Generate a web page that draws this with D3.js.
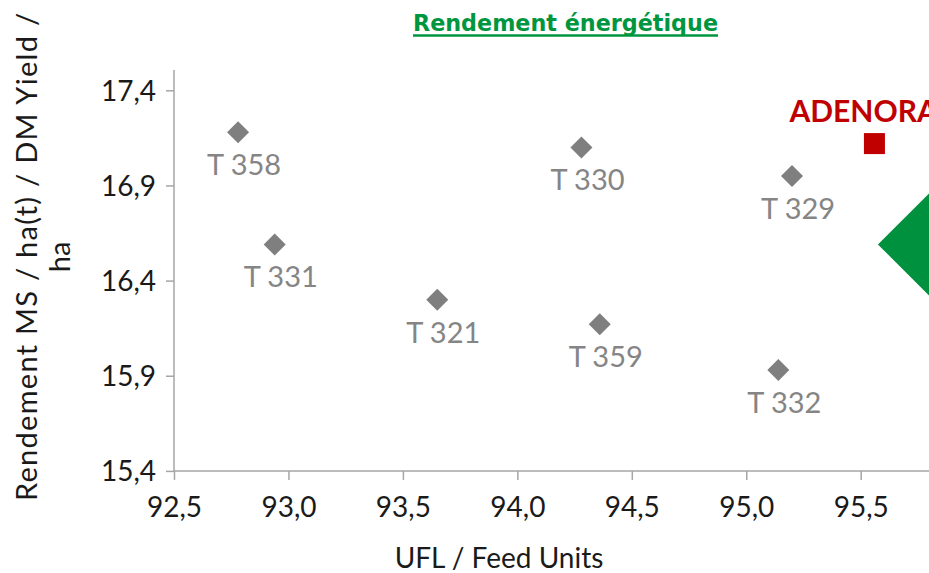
<!DOCTYPE html>
<html lang="fr">
<head>
<meta charset="UTF-8">
<title>Rendement énergétique</title>
<script src="https://cdn.jsdelivr.net/npm/d3@7/dist/d3.min.js"></script>
<style>
  html, body { margin: 0; padding: 0; background: #fff; overflow: hidden; }
  svg { display: block; font-family: "Century Gothic", "Lato", sans-serif; }
</style>
</head>
<body>
<svg id="chart" width="929" height="573"></svg>
<script>
// variétés témoins
var names = ["T 358", "T 331", "T 321", "T 330", "T 359", "T 329", "T 332"];
var ufl = [92.78, 92.94, 93.65, 94.28, 94.36, 95.20, 95.14];
var yieldMS = [17.18, 16.59, 16.30, 17.10, 16.17, 16.95, 15.93];

// variété mise en avant
var highlightName = ["ADENORA"];
var highlightUfl = [95.56];
var highlightYield = [17.12];

// gros losange vert (coupé à droite)
var greenUfl = [95.82];
var greenYield = [16.59];

var xTicks = [92.5, 93.0, 93.5, 94.0, 94.5, 95.0, 95.5];
var yTicks = [15.4, 15.9, 16.4, 16.9, 17.4];

var svg = d3.select("#chart");

var x = d3.scaleLinear().domain([92.5, 96.0]).range([174, 174 + 3.5 * 228.9]);
var y = d3.scaleLinear().domain([15.4, 17.4]).range([470.9, 90.3]);

var fmt = function (d) { return d3.format(".1f")(d).replace(".", ","); };
var axisCol = "#a6a6a6";

// titre
var title = svg.append("text")
    .attr("x", 565.5)
    .attr("y", 31)
    .attr("text-anchor", "middle")
    .style("font-family", "'DejaVu Sans', sans-serif")
    .style("font-weight", "bold")
    .style("font-size", "22.5px")
    .attr("fill", "#00963f")
    .text("Rendement énergétique");
title.attr("textLength", 305).attr("lengthAdjust", "spacingAndGlyphs");
svg.append("line")
    .attr("x1", 413).attr("x2", 718)
    .attr("y1", 35.5).attr("y2", 35.5)
    .attr("stroke", "#00963f").attr("stroke-width", 2.5);

// axe Y
var yAxis = svg.append("g")
    .attr("transform", "translate(174,0)")
    .call(d3.axisLeft(y).tickValues(yTicks).tickFormat(fmt).tickSize(8).tickPadding(10));
yAxis.select(".domain").remove();
yAxis.append("line")
    .attr("x1", 0).attr("x2", 0).attr("y1", 70).attr("y2", 471)
    .attr("stroke", axisCol).attr("stroke-width", 1.5);

// axe X
var xAxis = svg.append("g")
    .attr("transform", "translate(0,470.9)")
    .call(d3.axisBottom(x).tickValues(xTicks).tickFormat(fmt).tickSize(9).tickPadding(17));
xAxis.select(".domain").remove();
xAxis.append("line")
    .attr("x1", 174).attr("x2", 929).attr("y1", 0).attr("y2", 0)
    .attr("stroke", axisCol).attr("stroke-width", 1.5);

svg.selectAll(".tick line").attr("stroke", axisCol).attr("stroke-width", 1.5);
svg.selectAll(".tick text")
    .style("font-family", "'Century Gothic', 'Lato', sans-serif")
    .style("font-size", "28px")
    .attr("fill", "#1a1a1a");
yAxis.selectAll(".tick text").attr("dy", "0.36em");

// titres des axes
svg.append("text")
    .attr("x", 499).attr("y", 568)
    .attr("text-anchor", "middle")
    .style("font-size", "28px")
    .attr("fill", "#1a1a1a")
    .text("UFL / Feed Units");

var yTitle = svg.append("text")
    .attr("transform", "translate(0,257) rotate(-90)")
    .attr("text-anchor", "middle")
    .style("font-size", "29px")
    .attr("fill", "#1a1a1a");
yTitle.append("tspan").attr("x", 0).attr("y", 37)
    .attr("textLength", 488).attr("lengthAdjust", "spacing")
    .text("Rendement MS / ha(t) / DM Yield /");
yTitle.append("tspan").attr("x", 0).attr("y", 70).text("ha");

// losange vert
var gSize = 56;
svg.append("g").selectAll("path")
    .data(greenUfl)
    .enter().append("path")
    .attr("d", function (d, i) {
        var cx = x(d), cy = y(greenYield[i]);
        return "M" + (cx - gSize) + "," + cy + "L" + cx + "," + (cy - gSize) +
            "L" + (cx + gSize) + "," + cy + "L" + cx + "," + (cy + gSize) + "Z";
    })
    .attr("fill", "#00913f");

// points témoins
var pts = svg.append("g").selectAll("g")
    .data(names)
    .enter().append("g")
    .attr("transform", function (d, i) {
        return "translate(" + x(ufl[i]) + "," + y(yieldMS[i]) + ")";
    });
pts.append("path")
    .attr("d", d3.symbol().type(d3.symbolSquare).size(242))
    .attr("transform", "rotate(45)")
    .attr("fill", "#7f7f7f");
pts.append("text")
    .attr("x", 6)
    .attr("y", 43)
    .attr("text-anchor", "middle")
    .style("font-size", "29px")
    .attr("fill", "#858585")
    .text(function (d) { return d; });

// ADENORA
var hl = svg.append("g").selectAll("g")
    .data(highlightName)
    .enter().append("g")
    .attr("transform", function (d, i) {
        return "translate(" + x(highlightUfl[i]) + "," + y(highlightYield[i]) + ")";
    });
hl.append("rect")
    .attr("x", -10.5).attr("y", -10.5)
    .attr("width", 21).attr("height", 21)
    .attr("fill", "#c00000");
hl.append("text")
    .attr("x", -85)
    .attr("y", -21.5)
    .style("font-weight", "bold")
    .style("font-size", "30px")
    .attr("fill", "#c00000")
    .text(function (d) { return d; });
</script>
</body>
</html>
